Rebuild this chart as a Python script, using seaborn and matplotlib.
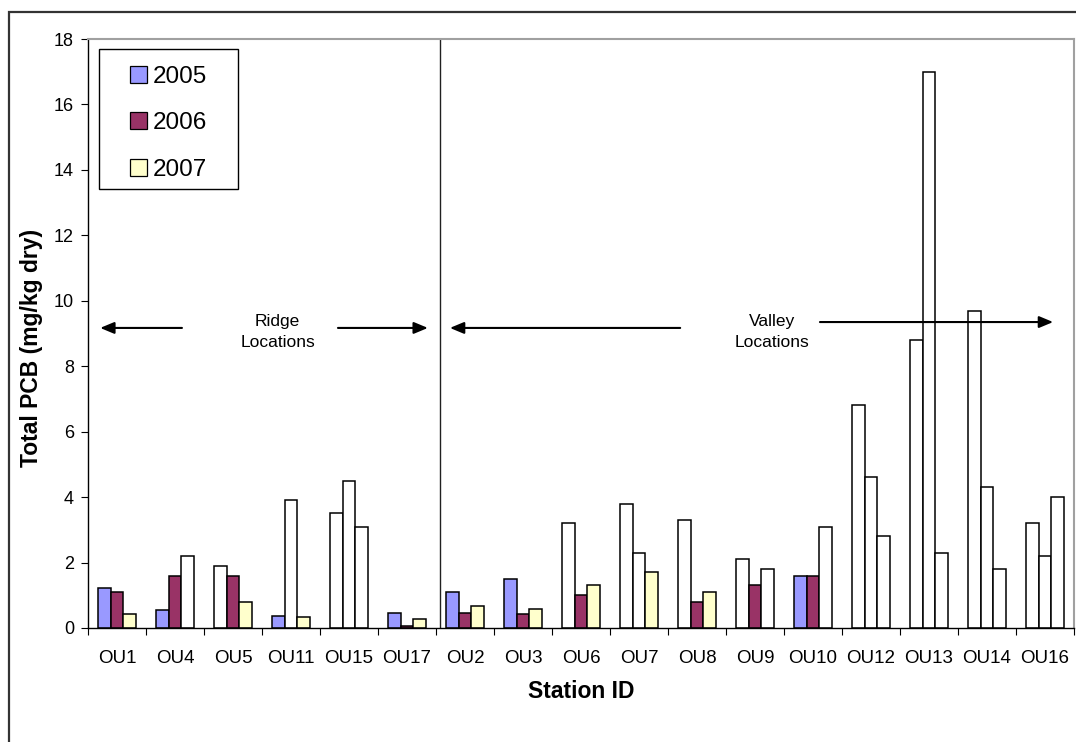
import matplotlib
matplotlib.use("Agg")
import matplotlib.pyplot as plt
from matplotlib.patches import Patch, Rectangle
import seaborn as sns
import pandas as pd

# station order as on the chart
stations = ["OU1", "OU4", "OU5", "OU11", "OU15", "OU17", "OU2", "OU3", "OU6",
            "OU7", "OU8", "OU9", "OU10", "OU12", "OU13", "OU14", "OU16"]
years = ["2005", "2006", "2007"]

pcb_2005 = [1.22, 0.55, 1.9, 0.36, 3.5, 0.45, 1.1, 1.5, 3.2, 3.8, 3.3, 2.1, 1.6, 6.8, 8.8, 9.7, 3.2]
pcb_2006 = [1.1, 1.6, 1.6, 3.9, 4.5, 0.05, 0.45, 0.42, 1.0, 2.3, 0.8, 1.3, 1.6, 4.6, 17.0, 4.3, 2.2]
pcb_2007 = [0.42, 2.2, 0.8, 0.34, 3.1, 0.26, 0.68, 0.57, 1.3, 1.7, 1.1, 1.8, 3.1, 2.8, 2.3, 1.8, 4.0]

# True = bar drawn in the year colour, False = drawn as an open (white) bar
shaded_2005 = [True, True, False, True, False, True, True, True, False, False, False, False, True, False, False, False, False]
shaded_2006 = [True, True, True, False, False, True, True, True, True, False, True, True, True, False, False, False, False]
shaded_2007 = [True, False, True, True, False, True, True, True, True, True, True, False, False, False, False, False, False]

colors = {"2005": "#9999FF", "2006": "#993366", "2007": "#FFFFCC"}

df = pd.DataFrame({
    "Station": stations * 3,
    "Year": [y for y in years for _ in stations],
    "PCB": pcb_2005 + pcb_2006 + pcb_2007,
})
shaded = {"2005": shaded_2005, "2006": shaded_2006, "2007": shaded_2007}

sns.set_style("white")
plt.rcParams["font.family"] = ["Liberation Sans", "DejaVu Sans"]
plt.rcParams.update({"text.color": "black", "axes.labelcolor": "black",
                     "xtick.color": "black", "ytick.color": "black"})

fig = plt.figure(figsize=(10.76, 7.42), dpi=100)
ax = fig.add_axes([88 / 1076, 1 - 628 / 742, 986 / 1076, 589 / 742])

sns.barplot(data=df, x="Station", y="PCB", hue="Year", order=stations,
            hue_order=years, palette=colors, width=0.67, edgecolor="black",
            linewidth=1.1, saturation=1, legend=False, ax=ax)

for year, cont in zip(years, ax.containers):
    for bar, s in zip(cont, shaded[year]):
        if not s:
            bar.set_facecolor("white")

ax.set_ylim(0, 18)
ax.set_xlim(-0.5, len(stations) - 0.5)
ax.set_yticks(range(0, 19, 2))
ax.tick_params(axis="y", direction="out", length=5, width=0.8,
               labelsize=13, pad=5, left=True)
ax.set_xticks(range(len(stations)))
ax.set_xticklabels(stations)
ax.set_xticks([i - 0.5 for i in range(len(stations) + 1)], minor=True)
ax.tick_params(axis="x", which="major", length=0, labelsize=13.5, pad=16)
ax.tick_params(axis="x", which="minor", direction="out", length=5, width=0.8,
               bottom=True)

for side in ["left", "bottom"]:
    ax.spines[side].set_color("black")
    ax.spines[side].set_linewidth(1.0)
for side in ["top", "right"]:
    ax.spines[side].set_color("#a0a0a0")
    ax.spines[side].set_linewidth(1.5)

ax.set_xlabel("Station ID", fontsize=16.5, fontweight="bold")
ax.set_ylabel("Total PCB (mg/kg dry)", fontsize=16.5, fontweight="bold")
ax.xaxis.set_label_coords(0.5, -0.088)
ax.yaxis.set_label_coords(-0.046, 0.475)

# ridge / valley divider
ax.axvline(5.57, color="#202020", lw=1.0)

arrow = dict(arrowstyle="-|>,head_length=0.6,head_width=0.25", color="black",
             lw=1.5, shrinkA=0, shrinkB=0, mutation_scale=14)
ax.annotate("", xy=(-0.29, 9.17), xytext=(1.12, 9.17), arrowprops=arrow)
ax.annotate("", xy=(5.36, 9.17), xytext=(3.81, 9.17), arrowprops=arrow)
ax.annotate("", xy=(5.74, 9.17), xytext=(9.71, 9.17), arrowprops=arrow)
ax.annotate("", xy=(16.14, 9.35), xytext=(12.12, 9.35), arrowprops=arrow)

narrow = ["Liberation Sans Narrow", "Liberation Sans"]
ax.text(2.77, 9.05, "Ridge\nLocations", ha="center", va="center", fontsize=12.5,
        family=narrow, linespacing=1.55)
ax.text(11.29, 9.05, "Valley\nLocations", ha="center", va="center", fontsize=12.5,
        family=narrow, linespacing=1.55)

# legend with a square-cornered frame
handles = [Patch(facecolor=colors[y], edgecolor="black", lw=0.9) for y in years]
ax.legend(handles, years, loc="center", bbox_to_anchor=(0.0816, 0.857),
          frameon=False, fontsize=17.5, handlelength=0.72, handleheight=0.72,
          handletextpad=0.25, labelspacing=1.0)
ax.add_patch(Rectangle((0.0112, 0.745), 0.1408, 0.238, transform=ax.transAxes,
                       fill=False, edgecolor="black", lw=1.0, zorder=5))

# outer chart frame
fig.add_artist(Rectangle((9 / 1076, -0.1), 1.2, 1.1 - 12 / 742,
                         transform=fig.transFigure, fill=False,
                         edgecolor="#333333", lw=1.6))

fig.savefig("out.png", dpi=100)
